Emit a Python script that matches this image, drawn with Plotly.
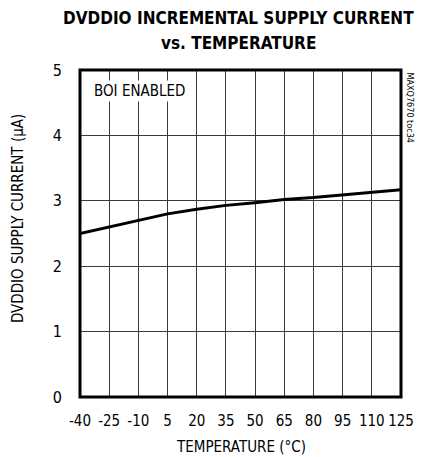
import plotly.graph_objects as go

temperature = [-40, -25, -10, 5, 20, 35, 50, 65, 80, 95, 110, 125]
supply_current = [2.50, 2.60, 2.70, 2.80, 2.87, 2.93, 2.97, 3.02, 3.05, 3.09, 3.13, 3.17]
x_ticks = [-40, -25, -10, 5, 20, 35, 50, 65, 80, 95, 110, 125]
y_ticks = [0, 1, 2, 3, 4, 5]

FONT = "DejaVu Sans Condensed, Liberation Sans Narrow, Liberation Sans, sans-serif"

fig = go.Figure()
fig.add_trace(go.Scatter(x=temperature, y=supply_current, mode="lines",
                         line=dict(color="black", width=3), showlegend=False))

# page body has an 8px default margin; figure sized to fit the window
fig.update_layout(
    width=418, height=449,
    margin=dict(l=72, r=17, t=62, b=60),
    paper_bgcolor="white", plot_bgcolor="white",
    font=dict(family=FONT, color="black", size=15),
    xaxis=dict(range=[-40, 125], tickvals=x_ticks, ticktext=[str(v) for v in x_ticks],
               showgrid=True, gridcolor="#3a3a3a", gridwidth=1, zeroline=False,
               ticks="", showline=False, ticklabelstandoff=13,
               tickfont=dict(size=15)),
    yaxis=dict(range=[0, 5], tickvals=y_ticks, showgrid=True, gridcolor="#3a3a3a",
               gridwidth=1, zeroline=False, ticks="", showline=False,
               ticklabelstandoff=17, tickfont=dict(size=16)),
)

fig.add_shape(type="rect", xref="paper", yref="paper", x0=0, y0=0, x1=1, y1=1,
              line=dict(color="black", width=3), layer="above")

# title lines
fig.add_annotation(text="<b>DVDDIO INCREMENTAL SUPPLY CURRENT</b>", xref="paper", yref="paper",
                   x=0.495, y=1.0, yshift=52, xanchor="center", yanchor="middle", showarrow=False,
                   font=dict(family=FONT, size=17, color="black"))
fig.add_annotation(text="<b>vs. TEMPERATURE</b>", xref="paper", yref="paper",
                   x=0.495, y=1.0, yshift=27, xanchor="center", yanchor="middle", showarrow=False,
                   font=dict(family=FONT, size=17, color="black"))

# axis titles
fig.add_annotation(text="TEMPERATURE (°C)", xref="paper", yref="paper",
                   x=0.5, y=0, yshift=-50, xanchor="center", yanchor="middle", showarrow=False,
                   font=dict(family=FONT, size=15, color="black"))
fig.add_annotation(text="DVDDIO SUPPLY CURRENT (μA)", xref="paper", yref="paper",
                   x=0, xshift=-62, y=0.544, xanchor="center", yanchor="middle", showarrow=False,
                   textangle=-90, font=dict(family=FONT, size=15, color="black"))

fig.add_annotation(text="BOI ENABLED", xref="x", yref="y", x=-34, y=4.68,
                   xanchor="left", yanchor="middle", showarrow=False,
                   font=dict(family=FONT, size=15, color="black"),
                   bgcolor="white")
fig.add_annotation(text="MAXQ7670 toc34", xref="paper", yref="paper", x=1.0, xshift=9, y=1.0,
                   xanchor="center", yanchor="top", showarrow=False, textangle=90,
                   font=dict(family=FONT, size=9, color="black"))

fig.write_html("out.html")
